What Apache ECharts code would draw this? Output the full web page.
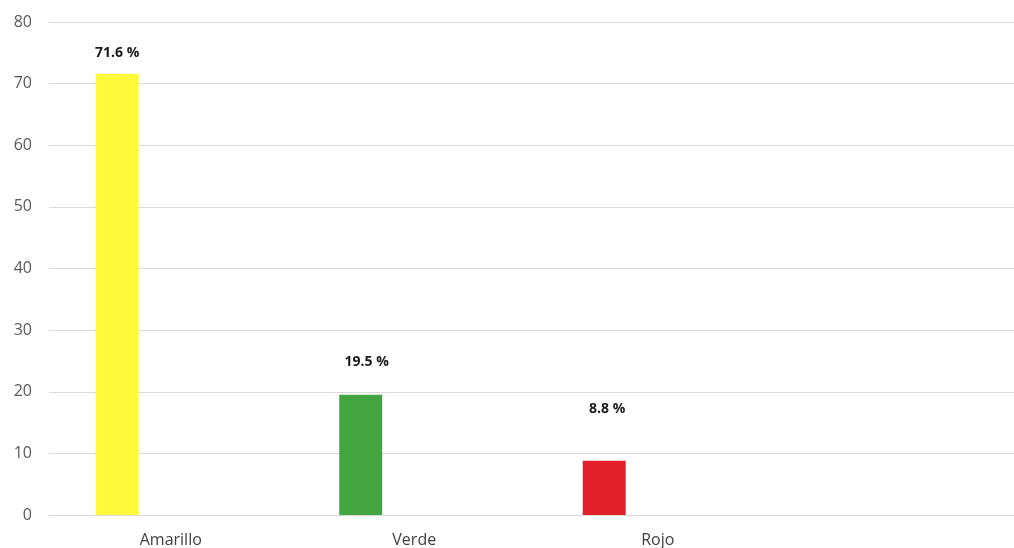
<!DOCTYPE html>
<html><head><meta charset="utf-8">
<script src="https://cdn.jsdelivr.net/npm/echarts@6/dist/echarts.min.js"></script>
<style>html,body{margin:0;padding:0;background:#fff;overflow:hidden}#c{width:1023px;height:548px}</style>
</head><body><div id="c"></div>
<script>
const categories = ['Amarillo', 'Verde', 'Rojo', ''];
const values = [71.6, 19.5, 8.8, null];
const barColors = ['#FFF93C', '#43A540', '#E3212A', '#cccccc'];
const yTicks = [0, 10, 20, 30, 40, 50, 60, 70, 80];
// label placement tweaks (style only)
const labelDist = [14, 26, 45, 0];
const labelDx = [0, 6, 3, 0];

const chart = echarts.init(document.getElementById('c'));
const font = '"Open Sans", sans-serif';
chart.setOption({
  animation: false,
  grid: { left: 49, top: 22, right: 0, height: 493 },
  xAxis: {
    type: 'category', data: categories,
    axisLine: { show: true, lineStyle: { color: '#d9d9d9' } },
    axisTick: { show: false },
    axisLabel: { color: '#404040', fontSize: 16, fontFamily: font, margin: 17 }
  },
  yAxis: {
    type: 'value', min: yTicks[0], max: yTicks[yTicks.length - 1], interval: 10,
    axisLine: { show: false }, axisTick: { show: false },
    splitLine: { lineStyle: { color: '#d9d9d9', width: 1 } },
    axisLabel: { color: '#595959', fontSize: 16, fontFamily: font, margin: 17 }
  },
  series: [{
    type: 'bar', barWidth: 43, barGap: '149%',
    data: values.map((v, i) => ({
      value: v,
      itemStyle: { color: barColors[i] },
      label: { distance: labelDist[i], offset: [labelDx[i], 0] }
    })),
    label: {
      show: true, position: 'top', color: '#1a1a1a', fontWeight: 'bold',
      fontSize: 14, fontFamily: font,
      formatter: p => p.value == null ? '' : p.value.toFixed(1) + ' %'
    }
  }, {
    type: 'bar', barWidth: 43, data: categories.map(() => null)
  }]
});
</script></body></html>
